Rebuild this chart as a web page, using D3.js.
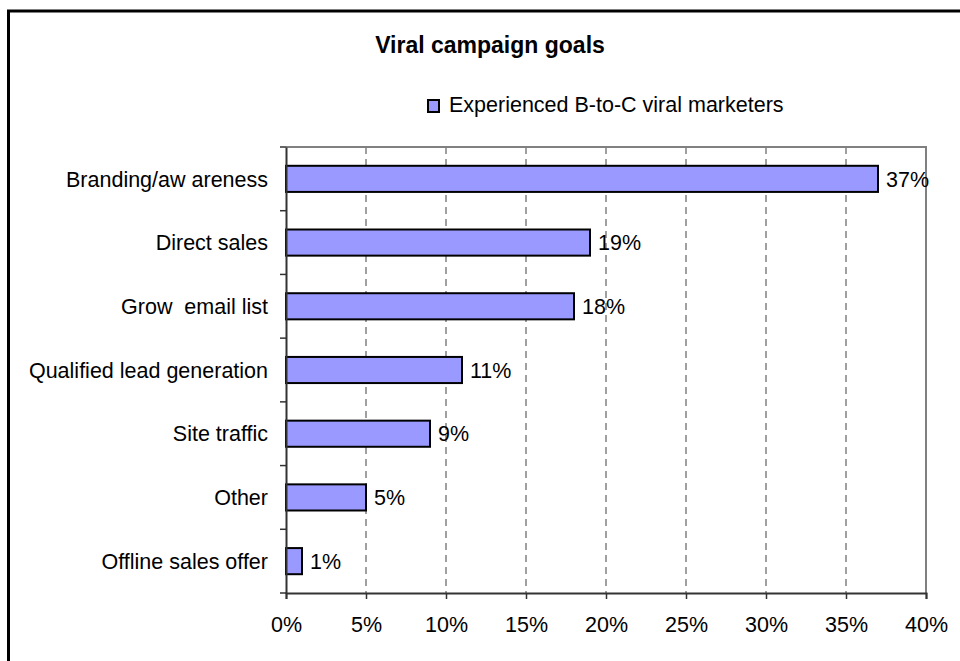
<!DOCTYPE html>
<html>
<head>
<meta charset="utf-8">
<script src="https://cdn.jsdelivr.net/npm/d3@7"></script>
<style>
  body { margin: 0; background: #fff; }
  svg { display: block; font-family: "Liberation Sans", Arial, sans-serif; }
  text { white-space: pre; }
</style>
</head>
<body>
<div id="container"></div>
<script>
// data
var categories = ["Branding/aw areness", "Direct sales", "Grow  email list",
                  "Qualified lead generation", "Site traffic", "Other", "Offline sales offer"];
var values = [37, 19, 18, 11, 9, 5, 1];
var xTicks = [0, 5, 10, 15, 20, 25, 30, 35, 40];
var seriesName = "Experienced B-to-C viral marketers";
var title = "Viral campaign goals";

//-----------------------------SVG------------------------------//
const width = 960;
const height = 661;
const plot = {left: 286, right: 926, top: 147, bottom: 593};
const fs = 21.5;

const svg = d3.select("div#container").append("svg")
    .attr("width", width)
    .attr("height", height);

// outer chart border (runs off the page on right and bottom)
svg.append("rect")
    .attr("x", 8.5).attr("y", 11)
    .attr("width", 1000).attr("height", 700)
    .attr("fill", "none")
    .attr("stroke", "#000")
    .attr("stroke-width", 3);

//----------------------------SCALES----------------------------//
const xScale = d3.scaleLinear().domain([0, 40]).range([plot.left, plot.right]);
const yScale = d3.scaleBand().domain(categories)
    .range([plot.top, plot.bottom])
    .paddingInner(0.59).paddingOuter(0.295);

//---------------------------GRID-------------------------------//
svg.append("g")
    .selectAll("line")
    .data(xTicks.filter(function(d) { return d > 0 && d < 40; }))
    .enter()
    .append("line")
    .attr("x1", function(d) { return xScale(d); })
    .attr("x2", function(d) { return xScale(d); })
    .attr("y1", plot.top)
    .attr("y2", plot.bottom)
    .attr("stroke", "#404040")
    .attr("stroke-width", 1)
    .attr("stroke-dasharray", "7,5");

// top and right plot border
svg.append("path")
    .attr("d", "M" + plot.left + "," + plot.top + "H" + plot.right + "V" + plot.bottom)
    .attr("fill", "none")
    .attr("stroke", "#808080")
    .attr("stroke-width", 2);

//-----------------------------BARS-----------------------------//
svg.append("g")
    .selectAll("rect")
    .data(values)
    .enter()
    .append("rect")
    .attr("x", xScale(0))
    .attr("y", function(d, i) { return yScale(categories[i]); })
    .attr("width", function(d) { return xScale(d) - xScale(0); })
    .attr("height", yScale.bandwidth())
    .attr("fill", "#9999FF")
    .attr("stroke", "#000")
    .attr("stroke-width", 2);

svg.append("g")
    .selectAll("text")
    .data(values)
    .enter()
    .append("text")
    .attr("x", function(d) { return xScale(d) + 8; })
    .attr("y", function(d, i) { return yScale(categories[i]) + yScale.bandwidth() / 2; })
    .attr("dy", "0.36em")
    .attr("font-size", fs)
    .attr("fill", "#000")
    .text(function(d) { return d + "%"; });

//-----------------------------AXES-----------------------------//
const xaxis = d3.axisBottom(xScale)
    .tickValues(xTicks)
    .tickFormat(function(d) { return d + "%"; })
    .tickSize(6)
    .tickPadding(18);

const gx = svg.append("g")
    .attr("transform", "translate(0," + plot.bottom + ")")
    .call(xaxis);
gx.select(".domain").attr("stroke", "#333").attr("stroke-width", 2);
gx.selectAll(".tick line").attr("stroke", "#333").attr("stroke-width", 1.5);
gx.selectAll(".tick text").attr("font-size", fs).attr("fill", "#000")
    .attr("font-family", "Liberation Sans, Arial, sans-serif");

// category axis: ticks sit between the categories
const yaxis = d3.axisLeft(yScale).tickSize(0).tickPadding(18);
const gy = svg.append("g")
    .attr("transform", "translate(" + plot.left + ",0)")
    .call(yaxis);
gy.select(".domain").attr("stroke", "#333").attr("stroke-width", 2);
gy.selectAll(".tick text").attr("font-size", fs).attr("fill", "#000")
    .attr("font-family", "Liberation Sans, Arial, sans-serif")
    .attr("dy", "0.36em");

const step = yScale.step();
svg.append("g")
    .selectAll("line")
    .data(d3.range(categories.length + 1))
    .enter()
    .append("line")
    .attr("x1", plot.left - 6)
    .attr("x2", plot.left)
    .attr("y1", function(i) { return plot.top + i * step; })
    .attr("y2", function(i) { return plot.top + i * step; })
    .attr("stroke", "#333")
    .attr("stroke-width", 1.5);

//---------------------------TITLE / LEGEND---------------------//
svg.append("text")
    .attr("x", 490)
    .attr("y", 53)
    .attr("text-anchor", "middle")
    .attr("font-size", 23)
    .attr("font-weight", "bold")
    .text(title);

const legend = svg.append("g").attr("transform", "translate(428,100)");
legend.append("rect")
    .attr("width", 11).attr("height", 12)
    .attr("fill", "#9999FF")
    .attr("stroke", "#000")
    .attr("stroke-width", 2);
legend.append("text")
    .attr("x", 21)
    .attr("y", 12)
    .attr("font-size", fs)
    .text(seriesName);
</script>
</body>
</html>
